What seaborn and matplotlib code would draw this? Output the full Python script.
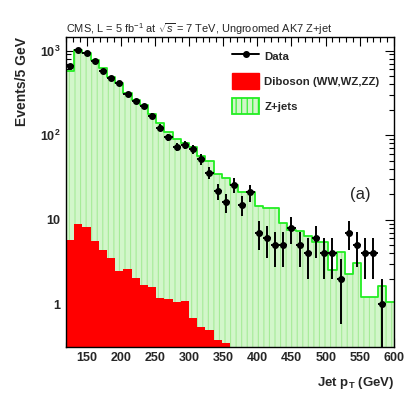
import numpy as np
import pandas as pd
import matplotlib
matplotlib.use("Agg")
import matplotlib.pyplot as plt
from matplotlib.lines import Line2D
from matplotlib.patches import Patch
from matplotlib.ticker import FixedLocator, FuncFormatter, LogLocator, NullFormatter
import seaborn as sns

# 40 bins of 12 GeV between 120 and 600 GeV
bin_edges = np.arange(120, 601, 12)
bin_centers = bin_edges[:-1] + 6

data_counts = [661, 1030, 945, 750, 580, 478, 411, 304, 255, 221,
               169, 123, 94, 73, 77, 69, 52, 36, 22, 16,
               26, 15, 21, 7, 6, 5, 5, 8, 5, 4,
               6, 4, 4, 2, 7, 5, 4, 4, 1, 0]

zjets = [575, 1020, 931, 777, 619, 493, 419, 314, 261, 228,
         178, 141, 110, 90, 80, 72, 56, 49, 34.4, 31.4,
         25.7, 21.4, 21.4, 14.5, 13.6, 13.6, 9.06, 7.5, 7.4, 6.5,
         5.5, 5.5, 2.54, 4.19, 2.26, 3.05, 1.21, 1.21, 1.65, 1.07]

diboson = [5.75, 8.9, 8.1, 5.65, 4.38, 3.56, 2.48, 2.59, 2.03, 1.69,
           1.59, 1.19, 1.16, 1.07, 1.10, 0.68, 0.54, 0.49, 0.38, 0.345,
           0, 0, 0, 0, 0, 0, 0, 0, 0, 0,
           0, 0, 0, 0, 0, 0, 0, 0, 0, 0]

x_ticks = [150, 200, 250, 300, 350, 400, 450, 500, 550, 600]

sns.set_theme(style="ticks")
plt.rcParams["font.family"] = ["Liberation Sans", "DejaVu Sans"]
plt.rcParams["mathtext.fontset"] = "custom"
plt.rcParams["mathtext.rm"] = "Liberation Sans"
plt.rcParams["mathtext.bf"] = "Liberation Sans:bold"
plt.rcParams["mathtext.it"] = "Liberation Sans:italic"
plt.rcParams["hatch.linewidth"] = 0.8

GREEN_FILL = "#d2f6ca"
GREEN_HATCH = "#a6eb98"
GREEN_LINE = "#22ee22"

df = pd.DataFrame({"pt": bin_centers, "data": data_counts,
                   "zjets": zjets, "diboson": diboson})

fig = plt.figure(figsize=(4.11, 3.99), dpi=100)
ax = fig.add_axes([0.1606, 0.1311, 0.7980, 0.7762])

# Z+jets: hatched pale green fill, then bright green outline
zx = np.repeat(bin_edges, 2)[1:-1]
zy = np.repeat(df["zjets"].values, 2)
ax.fill_between(zx, 1e-3, zy, facecolor=GREEN_FILL, edgecolor=GREEN_HATCH,
                hatch="|||", linewidth=0, zorder=1)
sns.histplot(data=df, x="pt", weights="zjets", bins=40, binrange=(120, 600),
             element="step", fill=False, color=GREEN_LINE, linewidth=1.3,
             ax=ax, zorder=2)

# Diboson: solid red
sns.histplot(data=df, x="pt", weights="diboson", bins=40, binrange=(120, 600),
             element="step", fill=True, color="#ff0000", alpha=1, linewidth=0,
             ax=ax, zorder=3)

# Data points with Poisson errors
d = df[df["data"] > 0]
ax.errorbar(d["pt"], d["data"], yerr=np.sqrt(d["data"]), xerr=6, fmt="o",
            color="black", ms=4, elinewidth=1.4, capsize=0, zorder=5)

ax.set_yscale("log")
ax.set_xlim(120, 600)
ax.set_ylim(0.315, 1450)

ax.xaxis.set_major_locator(FixedLocator(x_ticks))
ax.xaxis.set_minor_locator(FixedLocator(np.arange(120, 601, 10)))
ax.yaxis.set_major_locator(LogLocator(base=10, numticks=10))
ax.yaxis.set_minor_locator(LogLocator(base=10, subs=np.arange(2, 10), numticks=20))
ax.yaxis.set_minor_formatter(NullFormatter())


def ylab(v, pos):
    if v >= 100:
        return r"$\mathbf{10^{%d}}$" % int(round(np.log10(v)))
    return "%d" % int(round(v))


ax.yaxis.set_major_formatter(FuncFormatter(ylab))
ax.tick_params(which="both", direction="in", top=True, right=True,
               labelsize=9, width=0.8, color="black")
ax.tick_params(which="major", length=6.5, pad=4)
ax.tick_params(which="minor", length=3.6)
for lab in ax.get_xticklabels() + ax.get_yticklabels():
    lab.set_fontweight("bold")
for s in ax.spines.values():
    s.set_linewidth(1.0)
    s.set_color("black")
    s.set_zorder(10)

ax.set_xlabel(r"Jet $\mathbf{p_{T}}$ (GeV)", fontsize=9.5, fontweight="bold",
              loc="right", labelpad=8)
ax.set_ylabel("Events/5 GeV", fontsize=10, fontweight="bold", loc="top",
              labelpad=8)
ax.set_title(r"CMS, L = 5 fb$^{-1}$ at $\sqrt{s}$ = 7 TeV, Ungroomed AK7 Z+jet",
             fontsize=7.9, loc="left", pad=3)
ax.text(0.896, 0.49, "(a)", transform=ax.transAxes, fontsize=12,
        ha="center", va="center")

handles = [
    Line2D([0], [0], color="black", marker="o", ms=4, lw=1.4),
    Patch(facecolor="#ff0000", edgecolor="#ff0000"),
    Patch(facecolor=GREEN_FILL, edgecolor=GREEN_LINE, hatch="|||", linewidth=1.3),
]
leg = ax.legend(handles, ["Data", "Diboson (WW,WZ,ZZ)", "Z+jets"],
                loc="upper left", bbox_to_anchor=(0.49, 0.982), frameon=False,
                borderpad=0, handlelength=2.3, handleheight=1.7,
                labelspacing=0.85, handletextpad=0.5,
                prop={"weight": "bold", "size": 8.2})

fig.savefig("out.png", dpi=100)
